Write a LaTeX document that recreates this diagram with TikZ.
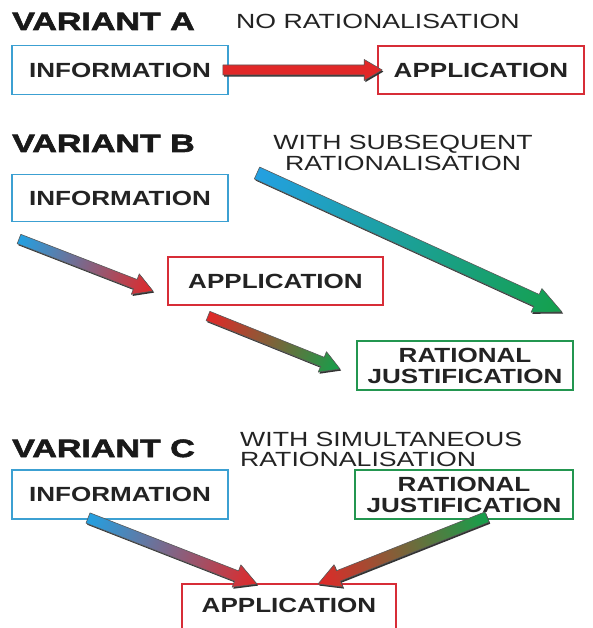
\documentclass[tikz,border=0pt]{standalone}
\usepackage{fontspec}
\setmainfont{Liberation Sans}
\newfontfamily\heavyfont{Liberation Sans}[UprightFont={* Bold}, FakeBold=2.5, FakeStretch=1.36]
\newfontfamily\widefont{Liberation Sans}[FakeStretch=1.3]
\newfontfamily\wideboldfont{Liberation Sans}[UprightFont={* Bold}, FakeStretch=1.27]
\usetikzlibrary{calc}

\definecolor{infoblue}{RGB}{60,160,210}
\definecolor{appred}{RGB}{215,45,55}
\definecolor{justgreen}{RGB}{35,150,80}
\definecolor{ablue}{RGB}{35,160,225}
\definecolor{ared}{RGB}{225,40,40}
\definecolor{agreen}{RGB}{20,160,75}
\definecolor{amauve}{RGB}{150,125,140}
\definecolor{aorange}{RGB}{185,110,40}
\definecolor{ateal}{RGB}{25,155,130}
\definecolor{inktext}{RGB}{35,35,35}

% Fat shaded arrow from named coordinate #1 to named coordinate #2.
% #3/#4/#5: start, middle and end colours, #6 shaft half-width, #7 head half-width, #8 head length (pt)
\newcommand\fatarrow[8]{%
  \pgfpointdiff{\pgfpointanchor{#1}{center}}{\pgfpointanchor{#2}{center}}%
  \pgfgetlastxy{\fadx}{\fady}%
  \pgfmathsetmacro\faang{atan2(\fady,\fadx)}%
  \pgfmathsetmacro\falen{veclen(\fadx,\fady)}%
  \pgfmathsetmacro\fabase{\falen-#8}%
  \begin{scope}[transform canvas={shift={(#1)},shift={(1.2pt,-1.6pt)},rotate=\faang}]
    \fill[black!80] (0pt,-#6pt) -- (\fabase pt,-#6pt) -- (\fabase pt,-#7pt) -- (\falen pt,0pt)
      -- (\fabase pt,#7pt) -- (\fabase pt,#6pt) -- (0pt,#6pt) -- cycle;
  \end{scope}
  \begin{scope}[transform canvas={shift={(#1)},rotate=\faang}]
    \shade[left color=#3,middle color=#4,right color=#5,draw=black!65,line width=0.6pt,line join=round]
      (0pt,-#6pt) -- (\fabase pt,-#6pt) -- (\fabase pt,-#7pt) -- (\falen pt,0pt)
      -- (\fabase pt,#7pt) -- (\fabase pt,#6pt) -- (0pt,#6pt) -- cycle;
  \end{scope}
}

\tikzset{
  box/.style={draw, line width=1.6pt, fill=white, inner sep=0pt, align=center,
    text=inktext, font=\wideboldfont\fontsize{20.5}{21}\selectfont},
  infobox/.style={box, draw=infoblue},
  appbox/.style={box, draw=appred},
  justbox/.style={box, draw=justgreen},
  title/.style={anchor=base west, inner sep=0pt, text=black!90, font=\heavyfont\fontsize{25}{25}\selectfont},
  subtitle/.style={inner sep=0pt, text=inktext, font=\widefont\fontsize{20.5}{20}\selectfont},
}

\begin{document}
\begin{tikzpicture}[x=1pt,y=-1pt]
\path[use as bounding box, fill=white] (0,0) rectangle (593,628);

% ---- Variant A: no rationalisation
\node[title] (tA) at (12,30) {VARIANT A};
\node[subtitle, anchor=base west] (sA) at (236,29) {NO RATIONALISATION};
\node[infobox, minimum width=216, minimum height=49] (infoA) at (120,70) {INFORMATION};
\node[appbox, minimum width=206, minimum height=48] (appA) at (481,70) {APPLICATION};
\coordinate (a1) at ($(infoA.east)+(-6,0)$);
\coordinate (a2) at ($(appA.west)+(5,0)$);
\fatarrow{a1}{a2}{ared}{ared}{ared}{5}{10.5}{18}

% ---- Variant B: subsequent rationalisation
\node[title] (tB) at (12,152) {VARIANT B};
\node[subtitle, anchor=base] (sB1) at (403,150) {WITH SUBSEQUENT};
\node[subtitle, anchor=base] (sB2) at (403,171) {RATIONALISATION};
\node[infobox, minimum width=216, minimum height=47] (infoB) at (120,198) {INFORMATION};
\node[appbox, minimum width=215, minimum height=48] (appB) at (275.5,281) {APPLICATION};
\node[justbox, minimum width=216, minimum height=49] (justB) at (465,365.5) {RATIONAL\\JUSTIFICATION};
\coordinate (b1s) at (19,239);
\coordinate (b1e) at (153,291);
\coordinate (b2s) at (208,316);
\coordinate (b2e) at (340,369);
\coordinate (b3s) at (257,173);
\coordinate (b3e) at (562,312);
\fatarrow{b1s}{b1e}{ablue}{amauve}{ared}{5}{11}{19}
\fatarrow{b2s}{b2e}{ared}{aorange}{agreen}{5}{11}{19}
\fatarrow{b3s}{b3e}{ablue}{ateal}{agreen}{6.5}{13}{28}

% ---- Variant C: simultaneous rationalisation
\node[title] (tC) at (12,457) {VARIANT C};
\node[subtitle, anchor=base west] (sC1) at (240,446) {WITH SIMULTANEOUS};
\node[subtitle, anchor=base west] (sC2) at (240,466) {RATIONALISATION};
\node[infobox, minimum width=216, minimum height=49] (infoC) at (120,494.5) {INFORMATION};
\node[justbox, minimum width=218, minimum height=49] (justC) at (464,494.5) {RATIONAL\\JUSTIFICATION};
\node[appbox, minimum width=214, minimum height=60, text depth=18pt] (appC) at (289,614) {APPLICATION};
\coordinate (c1s) at (88,518);
\coordinate (c1e) at (257,584);
\coordinate (c2s) at (487,517);
\coordinate (c2e) at (318,584);
\fatarrow{c1s}{c1e}{ablue}{amauve}{ared}{5.5}{12}{22}
\fatarrow{c2s}{c2e}{agreen}{aorange}{ared}{5.5}{12}{22}
\end{tikzpicture}
\end{document}
